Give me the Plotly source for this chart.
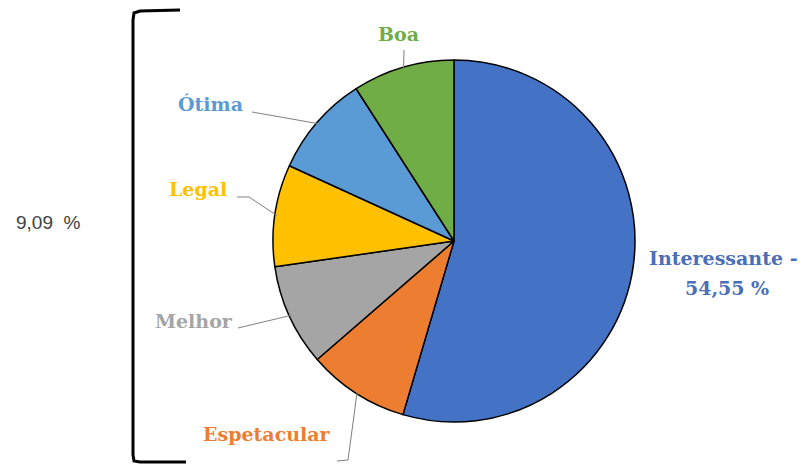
import math
import plotly.graph_objects as go

# ---- data ----
labels = ["Interessante", "Espetacular", "Melhor", "Legal", "Ótima", "Boa"]
values = [54.55, 9.09, 9.09, 9.09, 9.09, 9.09]
colors = ["#4472C4", "#ED7D31", "#A5A5A5", "#FFC000", "#5B9BD5", "#70AD47"]
label_text = ["Interessante -", "Espetacular", "Melhor", "Legal", "Ótima", "Boa"]
value_text = "54,55 %"
label_colors = ["#4A6FB8", "#ED7D31", "#A5A5A5", "#FFC000", "#5B9BD5", "#70AD47"]
bracket_text = "9,09  %"

# ---- layout constants (pixels) ----
W, H = 810, 465
CX, CY, R = 454, 241, 181
# label centres (px) and leader-line elbows (px, None = no leader)
label_pos = [(723, 258), (267, 434), (194, 321), (198, 189), (210, 104), (398, 34)]
value_pos = (727, 288)
leader_start = [None, [(337, 461), (348, 460)], [(238, 328)], [(237, 197), (249, 197)],
                [(252, 112)], [(404, 50)]]


def px(x):
    return x / W


def py(y):
    return 1 - y / H


fig = go.Figure(go.Pie(
    labels=labels, values=values, sort=False, direction="clockwise", rotation=0,
    marker=dict(colors=colors, line=dict(color="#000000", width=1.5)),
    textinfo="none", hoverinfo="label+percent", showlegend=False,
    domain=dict(x=[px(CX - R), px(CX + R)], y=[py(CY + R), py(CY - R)]),
))

label_font = dict(family="DejaVu Serif", size=19, weight="bold")
total = sum(values)
cum = 0
shapes = []
annotations = []
for i, v in enumerate(values):
    mid = (cum + v / 2) / total * 2 * math.pi
    cum += v
    ex, ey = CX + R * math.sin(mid), CY - R * math.cos(mid)
    lx, ly = label_pos[i]
    annotations.append(dict(
        x=px(lx), y=py(ly), xref="paper", yref="paper", text=label_text[i],
        showarrow=False, xanchor="center", yanchor="middle",
        font=dict(label_font, color=label_colors[i]),
    ))
    if leader_start[i]:
        pts = leader_start[i] + [(ex - 2 * math.sin(mid), ey + 2 * math.cos(mid))]
        path = "M " + " L ".join(f"{px(a):.5f},{py(b):.5f}" for a, b in pts)
        shapes.append(dict(type="path", path=path, xref="paper", yref="paper",
                           line=dict(color="#808080", width=1)))

annotations.append(dict(
    x=px(value_pos[0]), y=py(value_pos[1]), xref="paper", yref="paper", text=value_text,
    showarrow=False, xanchor="center", yanchor="middle",
    font=dict(label_font, color=label_colors[0]),
))

# bracket
bracket = [(180, 10), (140, 11), (134, 13), (133, 20), (133, 455), (134, 461), (140, 462), (186, 462)]
shapes.append(dict(type="path", xref="paper", yref="paper",
                   path="M " + " L ".join(f"{px(a):.5f},{py(b):.5f}" for a, b in bracket),
                   line=dict(color="#000000", width=3)))
annotations.append(dict(x=px(48), y=py(223), xref="paper", yref="paper", text=bracket_text,
                        showarrow=False, xanchor="center", yanchor="middle",
                        font=dict(family="Liberation Sans", size=19, color="#404040")))

fig.update_layout(
    width=W, height=H, margin=dict(l=0, r=0, t=0, b=0),
    paper_bgcolor="white", plot_bgcolor="white",
    shapes=shapes, annotations=annotations,
)
fig.write_html("out.html")
